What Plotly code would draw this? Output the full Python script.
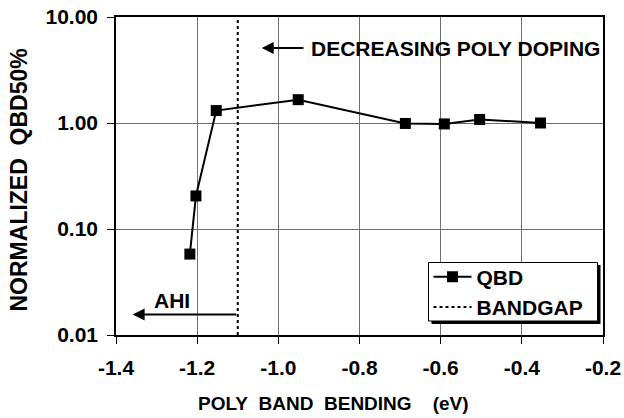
import plotly.graph_objects as go
import math

# ---- data ----
qbd_x = [-1.218, -1.203, -1.153, -0.951, -0.687, -0.591, -0.504, -0.354]
qbd_y = [0.058, 0.205, 1.31, 1.66, 0.99, 0.98, 1.08, 1.00]
bandgap_x = [-1.10, -1.10]
bandgap_y = [0.01, 10.0]
y_tickvals = [0.01, 0.1, 1, 10]
y_ticktext = ["0.01", "0.10", "1.00", "10.00"]
x_tickvals = [-1.4, -1.2, -1.0, -0.8, -0.6, -0.4, -0.2]
x_ticktext = ["-1.4", "-1.2", "-1.0", "-0.8", "-0.6", "-0.4", "-0.2"]

FONT = "Liberation Sans, Arial, Helvetica, sans-serif"
NB = "\u00a0"

L, T, R, B = 116, 17, 603, 335
PW, PH = R - L, B - T


def px(xp):
    return (xp - L) / PW


def py(yp):
    return (B - yp) / PH


fig = go.Figure()
fig.add_trace(go.Scatter(
    x=qbd_x, y=qbd_y, mode="lines+markers", name="QBD",
    line=dict(color="black", width=2),
    marker=dict(symbol="square", size=11, color="black"),
))
fig.add_trace(go.Scatter(
    x=bandgap_x, y=bandgap_y, mode="lines", name="BANDGAP",
    line=dict(color="black", width=2, dash="3px,3px"),
))

# legend box with shadow
fig.add_shape(type="rect", xref="paper", yref="paper",
              x0=px(431.5), x1=px(600.5), y0=py(324), y1=py(265),
              fillcolor="black", line=dict(width=0), layer="above")
fig.add_shape(type="rect", xref="paper", yref="paper",
              x0=px(428.5), x1=px(597.5), y0=py(321), y1=py(262.5),
              fillcolor="white", line=dict(color="black", width=1), layer="above")

annos = [
    dict(x=-0.925, y=math.log10(5.1), xref="x", yref="y", text="DECREASING POLY DOPING",
         showarrow=False, xanchor="left", yanchor="middle",
         font=dict(family=FONT, size=21, color="black", weight="bold")),
    dict(x=-1.041, y=math.log10(5.1), ax=-0.9345, ay=math.log10(5.1),
         xref="x", yref="y", axref="x", ayref="y", text="", showarrow=True,
         arrowhead=2, arrowsize=1.2, arrowwidth=2, arrowcolor="black"),
    dict(x=-1.263, y=-1.673, xref="x", yref="y", text="AHI", showarrow=False,
         xanchor="center", yanchor="middle",
         font=dict(family=FONT, size=21, color="black", weight="bold")),
    dict(x=-1.359, y=-1.8075, ax=-1.10, ay=-1.8075,
         xref="x", yref="y", axref="x", ayref="y", text="", showarrow=True,
         arrowhead=2, arrowsize=1.2, arrowwidth=2, arrowcolor="black"),
    dict(x=px(333.5), y=py(403), xref="paper", yref="paper",
         text="POLY" + NB * 2 + "BAND" + NB * 2 + "BENDING" + NB * 4 + "(eV)",
         showarrow=False, xanchor="center", yanchor="middle",
         font=dict(family=FONT, size=19, color="black", weight="bold")),
    dict(x=px(18.5), y=py(180), xref="paper", yref="paper",
         text="NORMALIZED" + NB * 2 + "QBD50%", textangle=-90,
         showarrow=False, xanchor="center", yanchor="middle",
         font=dict(family=FONT, size=23, color="black", weight="bold")),
]

fig.update_layout(
    width=624, height=418,
    margin=dict(l=L, r=624 - R, t=T, b=418 - B, autoexpand=False),
    paper_bgcolor="white", plot_bgcolor="white",
    font=dict(family=FONT, size=20, color="black", weight="bold"),
    showlegend=True,
    legend=dict(x=px(428.5), y=py(256.5),
                xanchor="left", yanchor="top",
                bgcolor="rgba(0,0,0,0)", borderwidth=0,
                itemwidth=38,
                font=dict(family=FONT, size=21, color="black", weight="bold"),
                tracegroupgap=0),
    annotations=annos,
)
fig.update_xaxes(
    range=[-1.4, -0.2], tickvals=x_tickvals, ticktext=x_ticktext,
    showgrid=True, gridcolor="#707070", gridwidth=1,
    showline=True, linecolor="black", linewidth=1.5, mirror=True,
    ticks="outside", ticklen=7, tickcolor="black", tickwidth=1,
    tickfont=dict(family=FONT, size=21, color="black", weight="bold"),
    ticklabelstandoff=6, zeroline=False, automargin=False,
)
fig.update_yaxes(
    type="log", range=[-2, 1], tickvals=y_tickvals, ticktext=y_ticktext,
    showgrid=True, gridcolor="#707070", gridwidth=1,
    showline=True, linecolor="black", linewidth=1.5, mirror=True,
    ticks="outside", ticklen=7, tickcolor="black", tickwidth=1,
    tickfont=dict(family=FONT, size=21, color="black", weight="bold"),
    ticklabelstandoff=5, zeroline=False, automargin=False,
)

fig.write_html("out.html")
